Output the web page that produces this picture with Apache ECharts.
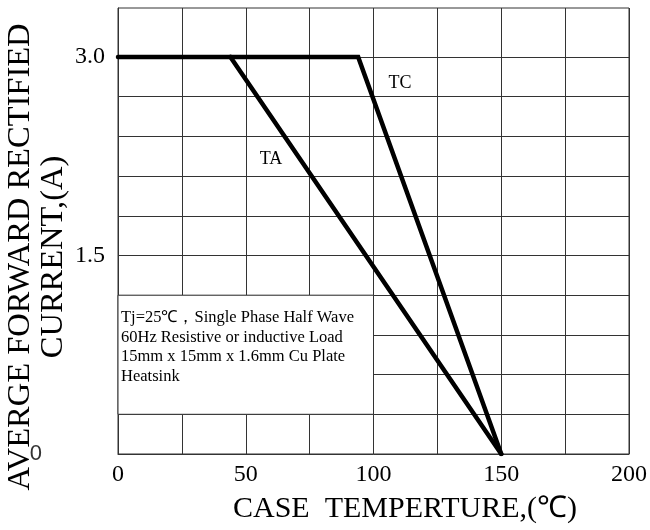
<!DOCTYPE html>
<html>
<head>
<meta charset="utf-8">
<script src="https://cdn.jsdelivr.net/npm/echarts@6/dist/echarts.min.js"></script>
<style>
html,body{margin:0;padding:0;background:#fff;}
#chart{width:650px;height:530px;}
</style>
</head>
<body>
<div id="chart"></div>
<script>
// ---- data ----
var tcCurve = [[0, 3.0], [94, 3.0], [150, 0]];
var taCurve = [[44, 3.0], [150, 0]];
var seriesNames = ['TC', 'TA'];
var xTickLabels = [0, 50, 100, 150, 200];
var yTickLabels = ['0', '1.5', '3.0'];
var yGridValues = [0.3, 0.6, 0.9, 1.2, 1.5, 1.8, 2.1, 2.4, 2.7, 3.0];
var noteLines = [
  'Tj=25℃，Single Phase Half Wave',
  '60Hz Resistive or inductive Load',
  '15mm x 15mm x 1.6mm Cu Plate',
  'Heatsink'
];
var xTitle = 'CASE  TEMPERTURE,(℃)';
var yTitle = ['AVERGE FORWARD RECTIFIED', 'CURRENT,(A)'];

var serif = "'Liberation Serif','Times New Roman',serif";
var gridColor = '#333';

var chart = echarts.init(document.getElementById('chart'));
var option = {
  animation: false,
  backgroundColor: '#fff',
  grid: {left: 118, right: 20, top: 8, bottom: 76, show: true, borderColor: gridColor, borderWidth: 1, backgroundColor: 'transparent'},
  xAxis: {
    type: 'value', min: 0, max: 200, interval: 25,
    axisLine: {show: true, lineStyle: {color: gridColor, width: 1}},
    axisTick: {show: false},
    splitLine: {show: true, lineStyle: {color: gridColor, width: 1}},
    axisLabel: {
      margin: 9, color: '#000', fontFamily: serif, fontSize: 24,
      formatter: function (v) {
        for (var i = 0; i < xTickLabels.length; i++) {
          if (Math.abs(v - xTickLabels[i]) < 1e-6) return String(xTickLabels[i]);
        }
        return '';
      }
    }
  },
  yAxis: {
    type: 'value', min: 0, max: 3.37, interval: 0.3,
    axisLine: {show: true, lineStyle: {color: gridColor, width: 1}},
    axisTick: {show: false},
    splitLine: {show: false},
    axisLabel: {
      margin: 13, color: '#000', fontFamily: serif, fontSize: 24,
      formatter: function (v) {
        for (var i = 0; i < yTickLabels.length; i++) {
          if (Math.abs(v - parseFloat(yTickLabels[i])) < 1e-6) {
            return yTickLabels[i] === '0' ? '{z|0}' : yTickLabels[i];
          }
        }
        return '';
      },
      rich: {
        z: {fontFamily: "'Liberation Sans','DejaVu Sans',sans-serif", fontSize: 22, color: '#333', padding: [0, 63, 0, 0]}
      }
    }
  },
  series: [
    {
      name: seriesNames[0], type: 'line', data: tcCurve, symbol: 'none', z: 5,
      lineStyle: {color: '#000', width: 4.5, cap: 'round', join: 'miter'},
      markLine: {
        silent: true, symbol: 'none', z: 3, animation: false,
        label: {show: false},
        lineStyle: {color: gridColor, width: 1, type: 'solid'},
        emphasis: {disabled: true},
        data: yGridValues.map(function (v) { return {yAxis: v}; })
      },
      markArea: {
        silent: true, z: 4,
        itemStyle: {color: '#fff', borderColor: gridColor, borderWidth: 1},
        data: [[{xAxis: 0, yAxis: 0.3}, {xAxis: 100, yAxis: 1.2}]]
      }
    },
    {
      name: seriesNames[1], type: 'line', data: taCurve, symbol: 'none', z: 5,
      lineStyle: {color: '#000', width: 4.5, cap: 'round', join: 'miter'}
    }
  ],
  graphic: [
    {type: 'text', x: 37, y: 257, rotation: Math.PI / 2,
      style: {text: yTitle.join('\n'), fontFamily: serif, fontSize: 32.5, lineHeight: 33, fill: '#000', align: 'center', verticalAlign: 'middle'}},
    {type: 'text', x: 405, y: 509,
      style: {text: xTitle, fontFamily: serif, fontSize: 30, fill: '#000', align: 'center', verticalAlign: 'middle'}},
    {type: 'text', x: 121, y: 308, z: 100,
      style: {text: noteLines.join('\n'), fontFamily: serif, fontSize: 16.5, lineHeight: 19.5, fill: '#000', align: 'left', verticalAlign: 'top'}},
    {type: 'text', x: 400, y: 83, z: 100,
      style: {text: seriesNames[0], fontFamily: serif, fontSize: 18, fill: '#000', align: 'center', verticalAlign: 'middle'}},
    {type: 'text', x: 271, y: 159, z: 100,
      style: {text: seriesNames[1], fontFamily: serif, fontSize: 18, fill: '#000', align: 'center', verticalAlign: 'middle'}}
  ]
};
chart.setOption(option);
</script>
</body>
</html>
